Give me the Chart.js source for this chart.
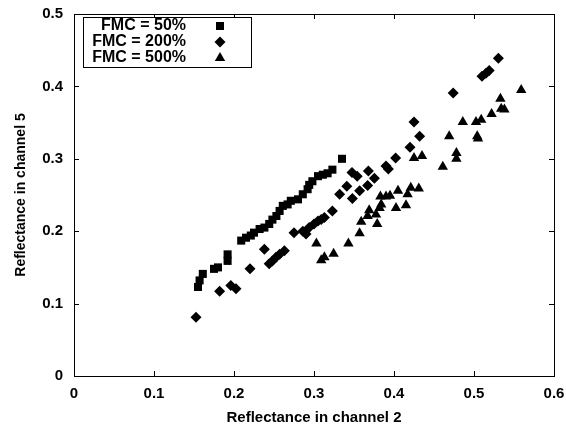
<!DOCTYPE html>
<html>
<head>
<meta charset="utf-8">
<script src="https://cdn.jsdelivr.net/npm/chart.js@4/dist/chart.umd.min.js"></script>
<style>
  html, body { margin: 0; padding: 0; background: #fff; }
  #wrap { width: 566px; height: 427px; }
</style>
</head>
<body>
<div id="wrap"><canvas id="fmcChart" width="566" height="427"></canvas></div>
<script>
// Reflectance values per fuel moisture content (channel 2 vs channel 5)
var fmc50X = [0.155, 0.157, 0.161, 0.175, 0.180, 0.192, 0.192, 0.209, 0.215, 0.221,
              0.225, 0.232, 0.238, 0.244, 0.248, 0.253, 0.257, 0.261, 0.267, 0.271,
              0.280, 0.286, 0.292, 0.294, 0.298, 0.305, 0.311, 0.317, 0.323, 0.335];
var fmc50Y = [0.123, 0.132, 0.141, 0.148, 0.150, 0.159, 0.168, 0.187, 0.191, 0.194,
              0.198, 0.203, 0.205, 0.210, 0.216, 0.221, 0.228, 0.235, 0.237, 0.242,
              0.244, 0.251, 0.258, 0.264, 0.269, 0.276, 0.278, 0.280, 0.285, 0.300];

var fmc200X = [0.1525, 0.182, 0.196, 0.2025, 0.220, 0.238, 0.244, 0.248, 0.2525, 0.257,
               0.263, 0.275, 0.286, 0.290, 0.294, 0.300, 0.305, 0.309, 0.313, 0.323,
               0.332, 0.341, 0.348, 0.3475, 0.354, 0.357, 0.367, 0.368, 0.3755, 0.390,
               0.393, 0.402, 0.420, 0.425, 0.432, 0.474, 0.510, 0.515, 0.519, 0.5305];
var fmc200Y = [0.081, 0.117, 0.125, 0.1205, 0.148, 0.175, 0.155, 0.159, 0.164, 0.168,
               0.173, 0.198, 0.200, 0.196, 0.205, 0.210, 0.214, 0.216, 0.219, 0.228,
               0.251, 0.262, 0.245, 0.281, 0.276, 0.256, 0.263, 0.283, 0.273, 0.290,
               0.286, 0.301, 0.316, 0.351, 0.331, 0.391, 0.414, 0.418, 0.422, 0.439];

var fmc500X = [0.303, 0.309, 0.313, 0.3245, 0.343, 0.357, 0.359, 0.367, 0.369, 0.3775,
               0.379, 0.382, 0.384, 0.383, 0.390, 0.395, 0.4025, 0.405, 0.415, 0.417,
               0.421, 0.431, 0.425, 0.435, 0.461, 0.469, 0.478, 0.478, 0.486, 0.5025,
               0.504, 0.505, 0.509, 0.522, 0.533, 0.534, 0.538, 0.559];
var fmc500Y = [0.183, 0.160, 0.164, 0.169, 0.183, 0.197, 0.213, 0.221, 0.229, 0.223,
               0.210, 0.232, 0.237, 0.248, 0.248, 0.249, 0.232, 0.256, 0.236, 0.251,
               0.260, 0.259, 0.301, 0.304, 0.289, 0.331, 0.300, 0.308, 0.351, 0.351,
               0.331, 0.328, 0.354, 0.362, 0.383, 0.369, 0.368, 0.395];

var seriesLabels = ["FMC = 50%", "FMC = 200%", "FMC = 500%"];
var seriesShapes = ["rect", "rectRot", "triangle"];
var xTicks = [0, 0.1, 0.2, 0.3, 0.4, 0.5, 0.6];
var yTicks = [0, 0.1, 0.2, 0.3, 0.4, 0.5];

var FONT = "'Liberation Sans', Arial, Helvetica, sans-serif";

function toPoints(xs, ys) {
  return xs.map(function(x, i) { return { x: x, y: ys[i] }; });
}

// draws one marker shape (used for the legend box)
function drawMarker(c, shape, x, y) {
  c.beginPath();
  if (shape === "rect") {
    c.rect(x - 4, y - 4, 8, 8);
  } else if (shape === "rectRot") {
    c.moveTo(x - 5.5, y); c.lineTo(x, y - 5.5); c.lineTo(x + 5.5, y); c.lineTo(x, y + 5.5);
  } else {
    c.moveTo(x, y - 6); c.lineTo(x + 5.2, y + 3); c.lineTo(x - 5.2, y + 3);
  }
  c.closePath();
  c.fill();
}

// frame round the plot with inward ticks on all four sides, plus the legend box
var framePlugin = {
  id: "frameTicks",
  afterDraw: function(chart) {
    var c = chart.ctx, a = chart.chartArea;
    var xs = chart.scales.x, ys = chart.scales.y;
    c.save();
    c.strokeStyle = "#000";
    c.lineWidth = 1;
    c.strokeRect(a.left + 0.5, a.top + 0.5, a.right - a.left, a.bottom - a.top);
    c.beginPath();
    xTicks.forEach(function(v) {
      var px = Math.round(xs.getPixelForValue(v)) + 0.5;
      c.moveTo(px, a.bottom); c.lineTo(px, a.bottom - 5);
      c.moveTo(px, a.top); c.lineTo(px, a.top + 5);
    });
    yTicks.forEach(function(v) {
      var py = Math.round(ys.getPixelForValue(v)) + 0.5;
      c.moveTo(a.left, py); c.lineTo(a.left + 5, py);
      c.moveTo(a.right, py); c.lineTo(a.right - 5, py);
    });
    c.stroke();

    // legend: text right-aligned, marker to the right
    var lx = a.left + 9, ly = a.top + 3;
    c.fillStyle = "#fff";
    c.fillRect(lx, ly, 168, 50);
    c.strokeRect(lx + 0.5, ly + 0.5, 168, 50);
    c.fillStyle = "#000";
    c.font = "bold 16px " + FONT;
    c.textAlign = "right";
    c.textBaseline = "middle";
    seriesLabels.forEach(function(lab, i) {
      var ry = ly + 9 + i * 16;
      c.fillText(lab, lx + 103, ry);
      drawMarker(c, seriesShapes[i], lx + 137, ry);
    });
    c.restore();
  }
};

var ctx = document.getElementById("fmcChart").getContext("2d");
var chart = new Chart(ctx, {
  type: "scatter",
  data: {
    datasets: [
      {
        label: seriesLabels[0],
        data: toPoints(fmc50X, fmc50Y),
        pointStyle: "rect",
        pointRadius: 5.7,
        backgroundColor: "#000",
        borderColor: "#000",
        borderWidth: 0
      },
      {
        label: seriesLabels[1],
        data: toPoints(fmc200X, fmc200Y),
        pointStyle: "rectRot",
        pointRadius: 5.5,
        backgroundColor: "#000",
        borderColor: "#000",
        borderWidth: 0
      },
      {
        label: seriesLabels[2],
        data: toPoints(fmc500X, fmc500Y),
        pointStyle: "triangle",
        pointRadius: 6,
        backgroundColor: "#000",
        borderColor: "#000",
        borderWidth: 0
      }
    ]
  },
  options: {
    responsive: false,
    animation: false,
    events: [],
    layout: { padding: { top: 14, right: 12, left: 0, bottom: 0 } },
    plugins: {
      legend: { display: false },
      tooltip: { enabled: false }
    },
    scales: {
      x: {
        type: "linear",
        min: 0,
        max: 0.6,
        afterBuildTicks: function(scale) {
          scale.ticks = xTicks.map(function(v) { return { value: v }; });
        },
        afterFit: function(scale) {
          scale.height = 51;
          scale.paddingLeft = 0;
          scale.paddingRight = 0;
        },
        grid: { display: false, drawTicks: false },
        border: { display: false },
        ticks: {
          color: "#000",
          padding: 9,
          font: { family: FONT, size: 15, weight: "bold" },
          callback: function(v) { return String(v); }
        },
        title: {
          display: true,
          text: "Reflectance in channel 2",
          color: "#000",
          font: { family: FONT, size: 15, weight: "bold" },
          padding: { top: 0, bottom: 0 }
        }
      },
      y: {
        type: "linear",
        min: 0,
        max: 0.5,
        afterBuildTicks: function(scale) {
          scale.ticks = yTicks.map(function(v) { return { value: v }; });
        },
        afterFit: function(scale) {
          scale.width = 74;
          scale.paddingTop = 0;
          scale.paddingBottom = 0;
        },
        grid: { display: false, drawTicks: false },
        border: { display: false },
        ticks: {
          color: "#000",
          padding: 11,
          font: { family: FONT, size: 15, weight: "bold" },
          callback: function(v) { return String(v); }
        },
        title: {
          display: true,
          text: "Reflectance in channel 5",
          color: "#000",
          font: { family: FONT, size: 14, weight: "bold" },
          padding: { top: 13, bottom: 0 }
        }
      }
    }
  },
  plugins: [framePlugin]
});
</script>
</body>
</html>
